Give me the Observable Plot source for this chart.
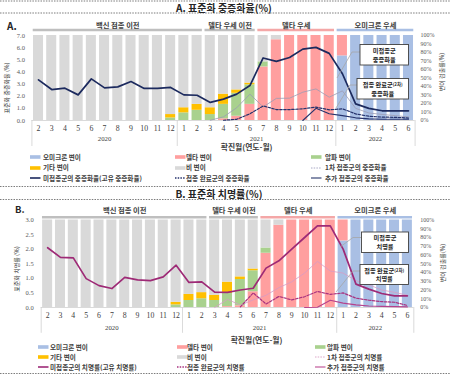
<!DOCTYPE html>
<html>
<head>
<meta charset="utf-8">
<script src="https://cdn.jsdelivr.net/npm/d3@7"></script>
<script src="https://cdn.jsdelivr.net/npm/@observablehq/plot@0.6"></script>
<style>
  html,body{margin:0;padding:0;background:#fff;}
  #root{position:relative;width:450px;height:376px;overflow:hidden;font-family:"Noto Sans CJK KR","Noto Sans",sans-serif;color:#404040;background:#fff;}
  .leg{font-size:6.6px;font-weight:700;color:#404040;white-space:nowrap;line-height:10px;}
</style>
</head>
<body>
<div id="root"></div>
<script>
// ---------- categories ----------
const monthLabels = ["2","3","4","5","6","7","8","9","10","11","12","1","2","3","4","5","6","7","8","9","10","11","12","1","2","3","4","5","6"];
const yearLabels = ["2020","2021","2022"];
const yearFirst = [0, 11, 23];
const yearLast = [10, 22, 28];
const eraLabels = ["백신 접종 이전","델타 우세 이전","델타 우세","오미크론 우세"];
const eraFirst = [0, 13, 17, 23];
const eraLast = [12, 16, 22, 28];
const eraColors = ["#bfbfbf","#bfbfbf","#f4a7a7","#a9bfe4"];
const variantNames = ["오미크론 변이","델타 변이","알파 변이","기타 변이","비 변이"];
const variantColors = ["#a9bfe4","#ff9f9f","#a9d18e","#ffc000","#d9d9d9"];
const rightTicks = [0,10,20,30,40,50,60,70,80,90,100];
const leftTicksA = [0,1,2,3,4,5,6,7];
const leftTicksB = [0,0.5,1,1.5,2,2.5,3];

// ---------- Panel A: variant detection (%) ----------
const omicronA = [0,0,0,0,0,0,0,0,0,0,0, 0,0,0,0,0,0,0,0,0,0,0,0, 76,100,100,100,100,100];
const deltaA   = [0,0,0,0,0,0,0,0,0,0,0, 0,0,0,2,5,19,63,95,100,100,100,100, 24,0,0,0,0,0];
const alphaA   = [0,0,0,0,0,0,0,0,0,0,3, 9,12,7,17,27,23,6,0,0,0,0,0, 0,0,0,0,0,0];
const otherA   = [0,0,0,0,0,0,0,0,0,0,4, 6,7,8,12,4,2,0,0,0,0,0,0, 0,0,0,0,0,0];
const nonA     = [100,100,100,100,100,100,100,100,100,100,93, 85,81,85,69,64,56,31,5,0,0,0,0, 0,0,0,0,0,0];
// Panel A: standardized severity rate (%)
const unvaxA   = [3.35,2.55,2.66,2.11,3.43,2.69,2.77,3.21,2.64,2.64,2.72, 2.11,2.08,1.49,1.76,2.17,2.88,5.15,4.87,5.19,5.88,6.02,5.53, 3.85,1.37,1.0,0.8,0.8,0.8];
const firstA   = [null,null,null,null,null,null,null,null,null,null,null, null,null,0.02,0.3,1.05,2.17,1.12,1.82,1.84,2.33,2.6,1.92, 2.44,1.0,0.62,0.5,0.4,0.3];
const fullA    = [null,null,null,null,null,null,null,null,null,null,null, null,null,null,0.02,0.1,0.55,1.2,0.9,0.9,0.96,1.1,0.88, 0.96,0.55,0.35,0.28,0.26,0.2];
const boosterA = [null,null,null,null,null,null,null,null,null,null,null, null,null,null,null,null,null,null,null,null,0.0,1.0,0.55, 0.4,0.22,0.13,0.1,0.1,0.1];

// ---------- Panel B: variant detection (%) ----------
const omicronB = [0,0,0,0,0,0,0,0,0,0,0, 0,0,0,0,0,0,0,0,0,0,0,0, 76,100,100,100,100,100];
const deltaB   = [0,0,0,0,0,0,0,0,0,0,0, 0,0,0,1,2,18,62,94,100,100,100,100, 24,0,0,0,0,0];
const alphaB   = [0,0,0,0,0,0,0,0,0,0,3, 8,10,8,15,30,24,6,0,0,0,0,0, 0,0,0,0,0,0];
const otherB   = [0,0,0,0,0,0,0,0,0,0,3, 7,7,6,13,3,2,0,0,0,0,0,0, 0,0,0,0,0,0];
const nonB     = [100,100,100,100,100,100,100,100,100,100,94, 85,83,86,71,65,56,32,6,0,0,0,0, 0,0,0,0,0,0];
// Panel B: standardized fatality rate (%)
const unvaxB   = [2.05,1.72,1.70,0.99,0.75,0.65,1.03,0.95,0.92,1.05,1.45, 0.86,0.88,0.53,0.52,0.6,0.66,1.35,1.6,2.0,2.4,2.8,2.8, 2.0,0.8,0.63,0.48,0.4,0.4];
const firstB   = [null,null,null,null,null,null,null,null,null,null,null, null,null,0.0,0.28,0.08,0.26,0.42,0.68,0.88,1.18,1.58,1.25, 1.18,0.92,0.78,0.6,0.52,0.42];
const fullB    = [null,null,null,null,null,null,null,null,null,null,null, null,null,null,null,0.02,0.5,0.12,0.38,0.26,0.37,0.55,0.45, 0.5,0.32,0.25,0.2,0.18,0.07];
const boosterB = [null,null,null,null,null,null,null,null,null,null,null, null,null,null,null,null,null,null,null,null,0.0,0.01,0.25, 0.15,0.09,0.05,0.04,0.03,0.02];

// ---------- legend texts ----------
const legendA = ["오미크론 변이","델타 변이","알파 변이","기타 변이","비 변이","1차 접종군의 중증화율","미접종군의 중증화율(고유 중증화율)","접종 완료군의 중증화율","추가 접종군의 중증화율"];
const legendB = ["오미크론 변이","델타 변이","알파 변이","기타 변이","비 변이","1차 접종군의 치명률","미접종군의 치명률(고유 치명률)","접종 완료군의 치명률","추가 접종군의 치명률"];

const root = document.getElementById("root");
function place(el, left, top) {
  el.style.position = "absolute";
  el.style.left = left + "px";
  el.style.top = top + "px";
  root.appendChild(el);
}

const KR = "'Noto Sans CJK KR','Noto Sans',sans-serif";
const SERIF = "'Liberation Serif','DejaVu Serif',serif";

function makePanel(p) {
  const stack = [];
  monthLabels.forEach((m, i) => {
    let acc = 0;
    p.variants.forEach((s, k) => {
      if (s[i] > 0) stack.push({i, k, y1: acc, y2: acc + s[i]});
      acc += s[i];
    });
  });
  const toPct = v => v / p.leftMax * 100;
  const lineData = s => s.map((v, i) => ({i, v})).filter(d => d.v != null);
  const idx = monthLabels.map((_, i) => i);
  const eras = eraLabels.map((_, j) => j);
  const yrs = yearLabels.map((_, j) => j);
  const bounds = [yearFirst[0] - 0.5, ...yearLast.map(l => l + 0.5)];
  const L = p.lines;
  return Plot.plot({
    width: 450, height: p.height,
    marginTop: p.mt, marginBottom: p.mb, marginLeft: p.ml, marginRight: p.mr,
    x: {domain: [-0.5, 28.5], axis: null},
    y: {domain: [0, 100], axis: null},
    color: {type: "identity"},
    style: {fontFamily: KR, background: "transparent", overflow: "visible"},
    marks: [
      Plot.rect(stack, {x1: d => d.i - p.bw, x2: d => d.i + p.bw, y1: "y1", y2: "y2", fill: d => variantColors[d.k]}),
      Plot.ruleY([0], {x1: -0.5, x2: 28.5, stroke: "#d0d0d0", strokeWidth: 0.8}),
      Plot.ruleX(bounds, {x: d => d, y1: 0, y2: p.sepDepth, stroke: "#d0d0d0", strokeWidth: 0.8}),
      Plot.ruleY(eras, {y: 100, x1: j => eraFirst[j] - 0.4, x2: j => eraLast[j] + 0.4, stroke: j => eraColors[j], strokeWidth: 2.6, dy: p.eraLineDy}),
      Plot.text(eras, {x: j => (eraFirst[j] + eraLast[j]) / 2, y: 100, dy: p.eraTextDy, text: j => eraLabels[j], fontSize: 7.3, fontWeight: "bold", fill: "#404040"}),
      Plot.line(lineData(p.first), {x: "i", y: d => toPct(d.v), stroke: L.first, strokeWidth: 0.8}),
      Plot.line(lineData(p.full), {x: "i", y: d => toPct(d.v), stroke: L.full, strokeWidth: 1.2, strokeDasharray: "2.5,1.5"}),
      Plot.line(lineData(p.booster), {x: "i", y: d => toPct(d.v), stroke: L.booster, strokeWidth: 1.1}),
      Plot.line(lineData(p.unvax), {x: "i", y: d => toPct(d.v), stroke: L.unvax, strokeWidth: 1.7}),
      Plot.text(p.leftTicks, {y: d => toPct(d), frameAnchor: "left", dx: -p.lpad, textAnchor: "end", text: d => d.toFixed(1), fontSize: 6.5, fontFamily: SERIF, fill: "#595959"}),
      Plot.text(rightTicks, {y: d => d, frameAnchor: "right", dx: p.rpad, textAnchor: "start", text: d => d + "%", fontSize: 6, fontFamily: SERIF, fill: "#595959"}),
      Plot.text(idx, {x: d => d, y: 0, dy: p.monthDy, text: d => monthLabels[d], fontSize: 7.8, fontFamily: SERIF, fill: "#404040"}),
      Plot.text(yrs, {x: j => (yearFirst[j] + yearLast[j]) / 2, y: 0, dy: p.yearDy, text: j => yearLabels[j], fontSize: 6.8, fontFamily: SERIF, fill: "#404040"}),
      Plot.text(["확진월(연도-월)"], {x: p.xTitleX, y: 0, dy: p.titleDy, text: d => d, fontSize: 7.8, fontWeight: "bold", fill: "#404040"})
    ]
  });
}

const plotA = makePanel({
  variants: [omicronA, deltaA, alphaA, otherA, nonA],
  unvax: unvaxA, first: firstA, full: fullA, booster: boosterA,
  lines: {unvax: "#1c2a5e", first: "#9c9cb4", full: "#25326c", booster: "#25326c"},
  height: 136, mt: 21, mb: 30, ml: 31.4, mr: 35.4, bw: 0.38,
  leftMax: 7, leftTicks: leftTicksA, lpad: 7, rpad: 5.5,
  monthDy: 8, yearDy: 18.5, titleDy: 27, sepDepth: -30.6,
  eraLineDy: -5.5, eraTextDy: -10, xTitleX: 15.75
});
place(plotA, 0, 14);

const plotB = makePanel({
  variants: [omicronB, deltaB, alphaB, otherB, nonB],
  unvax: unvaxB, first: firstB, full: fullB, booster: boosterB,
  lines: {unvax: "#9e2a76", first: "#d79cc4", full: "#a8327f", booster: "#b5428c"},
  height: 144, mt: 19.5, mb: 37, ml: 40.7, mr: 36.7, bw: 0.39,
  leftMax: 3, leftTicks: leftTicksB, lpad: 7.5, rpad: 6.5,
  monthDy: 7.5, yearDy: 20, titleDy: 33, sepDepth: -29.5,
  eraLineDy: -2.8, eraTextDy: -9.5, xTitleX: 16.26
});
place(plotB, 0, 200);

// ---------- legends ----------
function swatches(lineColors) {
  return [
    {type: "rect", color: variantColors[0]},
    {type: "rect", color: variantColors[1]},
    {type: "rect", color: variantColors[2]},
    {type: "rect", color: variantColors[3]},
    {type: "rect", color: variantColors[4]},
    {type: "line", color: lineColors.first, w: 1, dash: "1.5,1.2"},
    {type: "line", color: lineColors.unvax, w: 1.6},
    {type: "line", color: lineColors.full, w: 1.3, dash: "1.5,1.2"},
    {type: "line", color: lineColors.booster, w: 1.2}
  ];
}
function addLegend(labels, sw, swX, txX, rows) {
  labels.forEach((lab, n) => {
    const r = Math.floor(n / 3), c = n % 3;
    const cy = rows[r];
    const s = sw[n];
    const svg = d3.create("svg").attr("width", 12).attr("height", 8);
    if (s.type === "rect") {
      svg.append("rect").attr("x", 0).attr("y", 2.2).attr("width", 10.5).attr("height", 3.6).attr("fill", s.color);
    } else {
      svg.append("line").attr("x1", 0).attr("x2", 10.5).attr("y1", 4).attr("y2", 4)
        .attr("stroke", s.color).attr("stroke-width", s.w).attr("stroke-dasharray", s.dash || null);
    }
    place(svg.node(), swX[c], cy - 4);
    const t = document.createElement("div");
    t.className = "leg";
    t.textContent = lab;
    place(t, txX[c], cy - 5.5);
  });
}
addLegend(legendA, swatches({unvax: "#1c2a5e", first: "#a8a8c4", full: "#25326c", booster: "#3a4677"}),
  [30, 175, 311], [43, 186, 325], [157, 167.5, 178]);
addLegend(legendB, swatches({unvax: "#9e2a76", first: "#dca6c8", full: "#a8327f", booster: "#c25a9c"}),
  [38, 177, 315], [50, 187, 327], [347, 357, 367]);

// ---------- overlay: titles, separators, axis titles, annotations ----------
const ov = d3.create("svg").attr("width", 450).attr("height", 376).style("overflow", "visible");
[1, 13, 186.5, 199.5, 373.5].forEach(y => {
  ov.append("line").attr("x1", 0).attr("x2", 450).attr("y1", y).attr("y2", y)
    .attr("stroke", "#595959").attr("stroke-width", 0.8).attr("stroke-dasharray", "1.5,1.2");
});
function txt(x, y, s, size, weight, opts = {}) {
  const t = ov.append("text").attr("x", x).attr("y", y)
    .attr("text-anchor", opts.anchor || "middle").attr("dominant-baseline", "central")
    .attr("font-family", KR).attr("font-size", size).attr("font-weight", weight)
    .attr("fill", opts.fill || "#262626").text(s);
  if (opts.rotate) t.attr("transform", `rotate(${opts.rotate},${x},${y})`);
  return t;
}
txt(224, 7, "A. 표준화 중증화율(%)", 10, "bold");
txt(219, 193, "B. 표준화 치명률(%)", 10, "bold");
txt(7, 25, "A.", 10, "bold", {anchor: "start"});
txt(15, 209, "B.", 9.5, "bold", {anchor: "start"});
txt(6, 88, "표준화 중증화율 (%)", 6, "normal", {rotate: -90, fill: "#404040"});
txt(16, 269, "표준화 치명률 (%)", 6, "normal", {rotate: -90, fill: "#404040"});
txt(441.5, 72, "변이 검출률(%)", 6, "normal", {rotate: -90, fill: "#404040"});
txt(442, 263, "변이 검출률(%)", 6, "normal", {rotate: -90, fill: "#404040"});

const boxes = [
  {x: 360, y: 44.5, w: 48.5, h: 20.5, l1: "미접종군", sub: "", l2: "중증화율", leader: [[360, 52], [352, 52], [337, 78]]},
  {x: 357, y: 78.5, w: 51.5, h: 20.5, l1: "접종 완료군", sub: "(2차)", l2: "중증화율", leader: [[357, 85], [350, 85], [336, 108]]},
  {x: 361.5, y: 232, w: 47, h: 20.5, l1: "미접종군", sub: "", l2: "치명률", leader: [[361.5, 237.5], [353, 237.5], [340, 247]]},
  {x: 360, y: 264.5, w: 48.5, h: 20, l1: "접종 완료군", sub: "(2차)", l2: "치명률", leader: [[360, 271], [353, 271], [336, 292]]}
];
boxes.forEach(b => {
  ov.append("polyline").attr("points", b.leader.map(p => p.join(",")).join(" "))
    .attr("fill", "none").attr("stroke", "#a6a6a6").attr("stroke-width", 0.8);
  ov.append("rect").attr("x", b.x).attr("y", b.y).attr("width", b.w).attr("height", b.h)
    .attr("fill", "#fff").attr("stroke", "#404040").attr("stroke-width", 0.9);
  const cx = b.x + b.w / 2;
  const t1 = txt(cx, b.y + 5.6, b.l1, 6.2, "bold");
  if (b.sub) t1.append("tspan").attr("font-size", 4.4).text(b.sub);
  txt(cx, b.y + b.h - 5.6, b.l2, 6.2, "bold");
});
place(ov.node(), 0, 0);
</script>
</body>
</html>
